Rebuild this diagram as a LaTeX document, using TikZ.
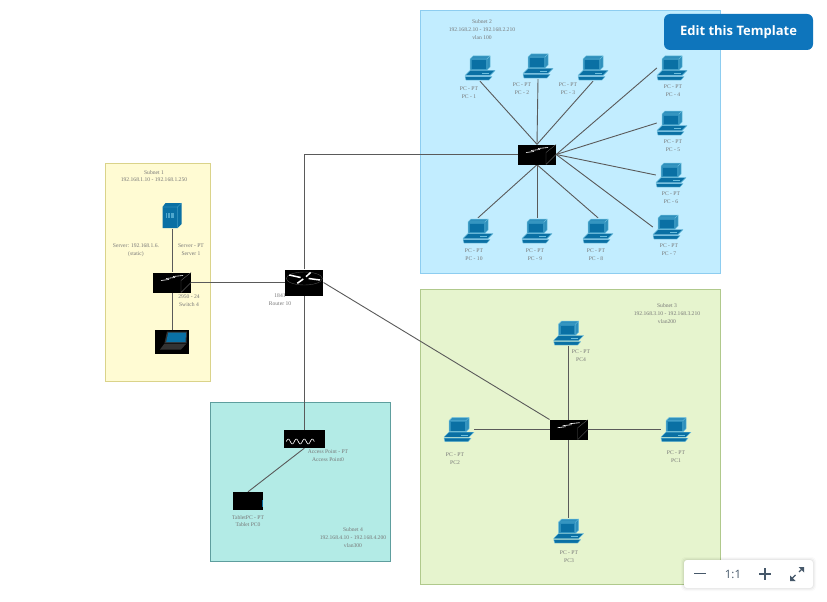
\documentclass[tikz,border=0pt]{standalone}
\usepackage{fontspec}
\setmainfont{Liberation Serif}
\newfontfamily\uifont{Open Sans}
\definecolor{pcblue}{HTML}{0A70A4}
\definecolor{pcmid}{HTML}{2E8FBC}
\definecolor{pclight}{HTML}{6CBFDE}
\definecolor{linegray}{HTML}{5A5A5A}
\definecolor{lblgray}{HTML}{777777}
\definecolor{sAfill}{HTML}{FFFBD3}
\definecolor{sAline}{HTML}{DAD38A}
\definecolor{sBfill}{HTML}{C2EDFF}
\definecolor{sBline}{HTML}{8DCDF0}
\definecolor{sCfill}{HTML}{E6F4CE}
\definecolor{sCline}{HTML}{B0C98C}
\definecolor{sDfill}{HTML}{B3EBE6}
\definecolor{sDline}{HTML}{5E9E9E}
\definecolor{btnblue}{HTML}{0E75BC}
\definecolor{uigray}{HTML}{46586A}
\tikzset{
  subnet/.style 2 args={draw=#1,fill=#2,line width=0.8pt,inner sep=0pt},
  lbl/.style={font=\fontsize{5.6}{7.8}\selectfont,align=center,text=lblgray,inner sep=0pt},
  pcbox/.style={minimum width=30pt,minimum height=26pt,inner sep=0pt},
  swbox/.style={minimum width=38pt,minimum height=20pt,inner sep=0pt},
  link/.style={draw=linegray,line width=0.9pt},
  pcicon/.pic={
    \fill[pcmid,draw=pclight,line width=0.5pt,line join=round] (-10,-9)--(-7,-12)--(10,-12)--(10,-1)--(7,2)--(-10,2)--cycle;
    \draw[pclight,line width=0.4pt] (-10,-9)--(7,-9)--(10,-12) (7,-9)--(7,2);
    \fill[pcblue] (-8,-7.5) rectangle (5.5,0.8);
    \fill[pcblue,draw=pclight,line width=0.4pt,line join=round] (-10,2.5)--(15,2.5)--(10,7.5)--(-15,7.5)--cycle;
    \fill[pclight] (2,5) rectangle (9,5.8);
    \fill[pcblue,draw=pclight,line width=0.4pt,line join=round] (-15,8.5)--(12,8.5)--(9,12)--(-14,12)--cycle;
  },
  swicon/.pic={
    \fill[black] (-19,-10) rectangle (19,10);
    \draw[gray!70!black,line width=0.4pt] (9,10)--(9,-2)--(19,-10) (9,10)--(19,0);
    \draw[white,line width=0.6pt] (-11,-2)--(-3,-3) (-6,-4)--(3,-5) (1,-6)--(11,-7);
  },
  routericon/.pic={
    \fill[black] (-19,-13) rectangle (19,13);
    \draw[gray!60!black,line width=0.4pt] (0,-4) ellipse (18 and 6.5);
    \draw[white,line width=1.5pt] (-15,-7.5)--(-3.7,-5) (1.7,-5.8)--(6.3,-10) (4.3,-4)--(15.7,-2.5) (-7,0.8)--(-1,-3.5);
  },
  apicon/.pic={
    \fill[black] (-20.5,-9) rectangle (20.5,9);
    \draw[white,line width=0.6pt,smooth,samples=50,domain=-18:10] plot (\x,{2.5-2.5*sin(360*(\x+18)/8)});
  },
  tableticon/.pic={
    \fill[black] (-15,-9) rectangle (15,9);
    \draw[pcblue,line width=0.5pt] (14,-1)--(14,6);
  },
  servericon/.pic={
    \fill[pcblue] (-9.5,-9)--(-6.5,-13)--(9.5,-13)--(9.5,8)--(5.5,12)--(-9.5,12)--cycle;
    \draw[pclight,line width=0.3pt] (-9.5,-9)--(5.5,-9)--(9.5,-13) (5.5,-9)--(5.5,12);
    \fill[pclight!70!pcblue] (-6.5,-3.5) rectangle (1.5,2);
    \draw[pcblue,line width=0.3pt] (-4.5,-3.5)--(-4.5,2) (-1.5,-3.5)--(-1.5,2);
  },
  laptopicon/.pic={
    \fill[black] (-17,-12) rectangle (17,12);
    \fill[gray!40!black] (-5,-10.5)--(15,-10.5)--(14.5,1)--(-7.5,1)--cycle;
    \fill[pcblue] (-3.8,-9.5)--(14,-9.5)--(13.5,0)--(-5.8,0)--cycle;
    \fill[black!80!white] (-7.5,1.5)--(14.5,1.5)--(9,7.5)--(-12,7.5)--cycle;
  },
}
\begin{document}
\begin{tikzpicture}[x=1pt,y=-1pt]
\useasboundingbox (0,0) rectangle (827,602);
\fill[white] (0,0) rectangle (827,602);
% subnets
\node[subnet={sAline}{sAfill},minimum width=105pt,minimum height=218pt] (s1) at (157.5,272) {};
\node[subnet={sBline}{sBfill},minimum width=300pt,minimum height=263pt] (s2) at (570,142.3) {};
\node[subnet={sCline}{sCfill},minimum width=300pt,minimum height=295pt] (s3) at (570,437.3) {};
\node[subnet={sDline}{sDfill},minimum width=180pt,minimum height=159pt] (s4) at (300.2,482.3) {};
% devices (anchors)
\node[pcbox] (pc1) at (480,68) {};
\node[pcbox] (pc2) at (538,66) {};
\node[pcbox] (pc3) at (593,68) {};
\node[pcbox] (pc4) at (672,68) {};
\node[pcbox] (pc5) at (672,123) {};
\node[pcbox] (pc6) at (671,175) {};
\node[pcbox] (pc7) at (668,227) {};
\node[pcbox] (pc8) at (598,231) {};
\node[pcbox] (pc9) at (537,231) {};
\node[pcbox] (pc10) at (478,231) {};
\node[pcbox] (pcA) at (676,429.7) {};
\node[pcbox] (pcB) at (459,429.7) {};
\node[pcbox] (pcC) at (568.7,531) {};
\node[pcbox] (pcD) at (568.7,333) {};
\node[swbox] (swB) at (537,154.5) {};
\node[swbox] (swC) at (568.7,429.7) {};
\node[swbox] (swA) at (172,282.5) {};
\node[minimum width=38pt,minimum height=26pt,inner sep=0pt] (router) at (304.3,282.5) {};
\node[minimum width=41pt,minimum height=18pt,inner sep=0pt] (ap) at (304.3,439) {};
\node[minimum width=30pt,minimum height=18pt,inner sep=0pt] (tablet) at (248,501) {};
\node[minimum width=19pt,minimum height=25pt,inner sep=0pt] (server) at (172,216) {};
\node[minimum width=34pt,minimum height=24pt,inner sep=0pt] (laptop) at (172,342) {};
% connectors
\foreach \n in {pc1,pc2,pc3} \draw[link] (\n.south) -- (swB.north);
\foreach \n in {pc8,pc9,pc10} \draw[link] (\n.north) -- (swB.south);
\foreach \n in {pc4,pc5,pc6,pc7} \draw[link] (\n.west) -- (swB.east);
\draw[link] (pcA.west) -- (swC.east);
\draw[link] (pcB.east) -- (swC.west);
\draw[link] (pcC.north) -- (swC.south);
\draw[link] (pcD.south) -- (swC.north);
\draw[link] (server.south) -- (swA.north);
\draw[link] (laptop.north) -- (swA.south);
\draw[link] (router.west) -- (swA.east);
\draw[link] (router.north) |- (swB.west);
\draw[link] (router.south) -- (ap.north);
\draw[link] (router.east) -- (swC.north west);
\draw[link] (ap.south) -- (tablet.north);
% icons
\foreach \n in {pc1,pc2,pc3,pc4,pc5,pc6,pc7,pc8,pc9,pc10,pcA,pcB,pcC,pcD} \pic at (\n) {pcicon};
\foreach \n in {swA,swB,swC} \pic at (\n) {swicon};
\pic at (router) {routericon};
\pic at (ap) {apicon};
\pic at (tablet) {tableticon};
\pic at (server) {servericon};
\pic at (laptop) {laptopicon};
% labels
\node[lbl] (t1) at (154,176) {Subnet 1\\192.168.1.10 - 192.168.1.250};
\node[lbl] (t2) at (136,250.5) {Server: 192.168.1.6.\\(static)};
\node[lbl] (t3) at (191,250) {Server - PT\\Server 1};
\node[lbl] (t4) at (189,301) {2950 - 24\\Switch 4};
\node[lbl] (t5) at (280,300) {1841\\Router 10};
\node[lbl] (t6) at (482,29.5) {Subnet 2\\192.168.2.10 - 192.168.2.210\\vlan 100};
\node[lbl] (l1) at (469,93) {PC - PT\\PC - 1};
\node[lbl] (l2) at (522,89) {PC - PT\\PC - 2};
\node[lbl] (l3) at (568,89) {PC - PT\\PC - 3};
\node[lbl] (l4) at (673,91) {PC - PT\\PC - 4};
\node[lbl] (l5) at (673,145.5) {PC - PT\\PC - 5};
\node[lbl] (l6) at (671,198) {PC - PT\\PC - 6};
\node[lbl] (l7) at (669,250) {PC - PT\\PC - 7};
\node[lbl] (l8) at (596,255) {PC - PT\\PC - 8};
\node[lbl] (l9) at (535,255) {PC - PT\\PC - 9};
\node[lbl] (l10) at (474,255) {PC - PT\\PC - 10};
\node[lbl] (t7) at (667,313.5) {Subnet 3\\192.168.3.10 - 192.168.3.210\\vlan200};
\node[lbl] (lD) at (581,356) {PC - PT\\PC4};
\node[lbl] (lB) at (455,459) {PC - PT\\PC2};
\node[lbl] (lA) at (676,457) {PC - PT\\PC1};
\node[lbl] (lC) at (569,556.5) {PC - PT\\PC3};
\node[lbl] (t8) at (328,456) {Access Point - PT\\Access Point0};
\node[lbl] (t9) at (248,521) {TabletPC - PT\\Tablet PC0};
\node[lbl] (t10) at (353,537.5) {Subnet 4\\192.168.4.10 - 192.168.4.200\\vlan300};
% template button
\node[fill=btnblue,rounded corners=6pt,minimum width=149pt,minimum height=36pt,inner sep=0pt,text=white,font=\uifont\bfseries\fontsize{13}{14}\selectfont] (btn) at (738.5,32) {Edit this Template};
% zoom bar
\foreach \g/\o in {3/0.02,2/0.03,1/0.04}
  \fill[black,opacity=\o,rounded corners=4pt] (684-\g,560-\g) rectangle (813+\g,588+\g);
\node[fill=white,rounded corners=3pt,minimum width=129pt,minimum height=28pt,inner sep=0pt] (bar) at (748.5,574) {};
\node[text=uigray,font=\uifont\fontsize{11.5}{12}\selectfont,inner sep=0pt] (ratio) at (733,574) {1:1};
\draw[uigray,line width=1.1pt] (694,573.5) -- (706,573.5);
\draw[uigray,line width=1.1pt] (759,574) -- (771,574) (765,568) -- (765,580);
\draw[uigray,line width=1.1pt] (791,579.5) -- (795.5,575) (799,572) -- (803,568);
\fill[uigray] (790,575.5) -- (790,581) -- (795.5,581) -- cycle;
\fill[uigray] (804,567) -- (798.5,567) -- (804,572.5) -- cycle;
\end{tikzpicture}
\end{document}
